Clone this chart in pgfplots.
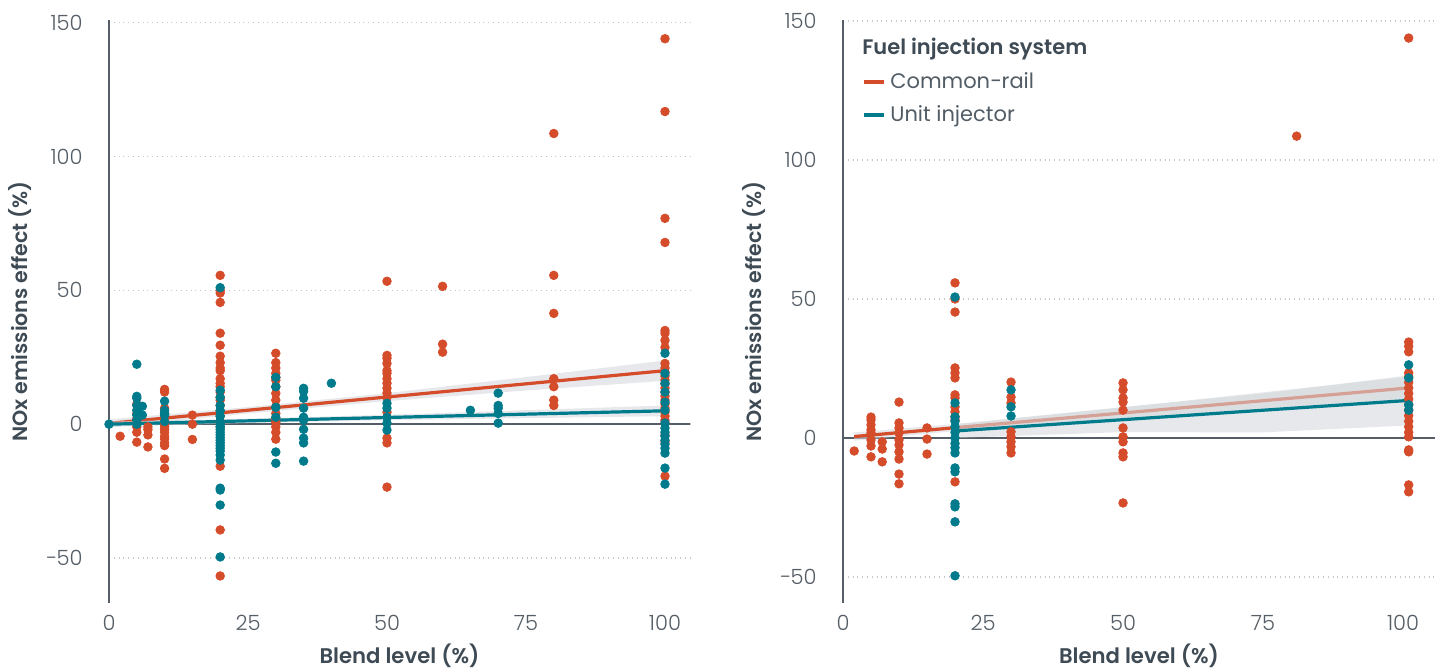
\documentclass[border=0pt]{standalone}
\usepackage{pgfplots}
\pgfplotsset{compat=1.18}
\usepackage{fontspec}
\setmainfont{Poppins}
\newfontfamily\lightfont{Poppins Light}
\newfontfamily\medfont{Poppins SemiBold}
\definecolor{cr}{HTML}{D54C2B}
\definecolor{ui}{HTML}{007B8C}
\definecolor{txt}{HTML}{3E4A54}
\definecolor{tickc}{HTML}{555E66}
\definecolor{band}{HTML}{D5D9DD}

\pgfplotsset{
 myaxis/.style={
  scale only axis,
  height=291.5pt,
  axis x line*=bottom, axis y line*=left,
  x axis line style={draw=none},
  y axis line style={draw=tickc, line width=0.6pt, -},
  major tick length=0pt,
  xtick={0,25,50,75,100},
  xticklabels={0,25,50,75,100},
  ytick={-50,0,50,100,150},
  yticklabels={−50,0,50,100,150},
  ymajorgrids, grid style={dotted, color=gray!45, line width=0.7pt},
  tick label style={font=\lightfont\fontsize{10.5}{12}\selectfont, color=tickc},
  yticklabel style={inner sep=0pt, anchor=east, xshift=-13pt},
  xticklabel style={inner sep=0pt, anchor=north, yshift=-6pt},
  xlabel={Blend level (\%)}, ylabel={NOx emissions effect (\%)},
  every axis x label/.style={at={([yshift=-26.5pt]axis description cs:0.5,0)}, anchor=center, font=\medfont\fontsize{10.6}{12}\selectfont, color=txt},
  every axis y label/.style={at={([xshift=-44.5pt]axis description cs:0,0.5)}, anchor=center, rotate=90, font=\medfont\fontsize{10.3}{12}\selectfont, color=txt},
  clip=false,
 },
 crpts/.style={only marks, mark=*, mark size=2.15pt, color=cr, mark options={draw=none, fill=cr}, forget plot},
 uipts/.style={only marks, mark=*, mark size=2.15pt, color=ui, mark options={draw=none, fill=ui}, forget plot},
 bandst/.style={fill=band, fill opacity=0.6, draw=none, forget plot},
}

\begin{document}
\begin{tikzpicture}
\useasboundingbox (0,0) rectangle (717.5pt,334.5pt);
% ---------------- LEFT ----------------
\begin{axis}[myaxis, at={(54.5pt,33pt)}, anchor=south west,
  width=290.5pt, xmin=0, xmax=104.5, ymin=-66.8, ymax=151]
\draw[color=tickc, line width=0.8pt] (axis cs:0,0) -- (axis cs:104.5,0);
\addplot[crpts] coordinates {
(2,-4.5)
(5,7.5)(5,4)(5,2)(5,-1)(5,-3)(5,-6.7)
(7,-1)(7,-2)(7,-4)(7,-8.5)
(10,13)(10,12)(10,6)(10,4)(10,2.5)(10,1)(10,0)(10,-1)(10,-2)(10,-3)(10,-4.5)(10,-5.5)(10,-7)(10,-8)(10,-13)(10,-16.5)
(15,3.4)(15,0)(15,-5.7)
(20,55.6)(20,50)(20,49)(20,45.5)(20,34)(20,29.5)(20,25.4)(20,23)(20,21)(20,20)(20,17)(20,15.3)(20,14)(20,12)(20,10)(20,9)(20,7)(20,5)(20,3)(20,1)(20,-1)(20,-15.7)(20,-39.5)(20,-56.7)
(30,26.5)(30,23)(30,21)(30,19)(30,17.5)(30,16.4)(30,14)(30,11.5)(30,9)(30,6.5)(30,4)(30,2)(30,0.7)(30,-1)(30,-3)(30,-5.6)
(50,53.4)(50,25.7)(50,24.6)(50,22.7)(50,20)(50,19)(50,17)(50,15.3)(50,13.4)(50,11.6)(50,10)(50,4.5)(50,-5.2)(50,-7)(50,-23.5)
(60,51.5)(60,29.9)(60,26.9)
(80,108.6)(80,55.6)(80,41.4)(80,17)(80,14)(80,9)(80,7)
(100,144)(100,116.8)(100,76.9)(100,67.9)(100,35)(100,34)(100,31.3)(100,28.7)(100,22.7)(100,21)(100,19.5)(100,18)(100,16.5)(100,15)(100,13.5)(100,12)(100,10.5)(100,9)(100,7.5)(100,6)(100,4.5)(100,3)(100,1.5)(100,0.4)(100,-4)(100,-6.6)(100,-19.4)
};
\addplot[uipts] coordinates {
(0,0)
(5,22.4)(5,10.4)(5,9.7)(5,7)(5,5.2)(5,3.4)(5,1.5)(5,0)
(6,6.7)(6,3.4)
(10,8.6)(10,5.2)(10,4.1)(10,3.4)(10,1)
(20,51)(20,12.7)(20,10)(20,7)(20,5)(20,3)(20,1)(20,0)(20,-1)(20,-2)(20,-3)(20,-4)(20,-5)(20,-6)(20,-7)(20,-8)(20,-9)(20,-10)(20,-11.5)(20,-13.4)(20,-23.9)(20,-24.6)(20,-30.2)(20,-49.6)
(30,17.5)(30,14)(30,6.3)(30,2.6)(30,-10.4)(30,-14.6)
(35,13.4)(35,12.3)(35,9.7)(35,6)(35,2.6)(35,1.5)(35,-1.9)(35,-5.2)(35,-7)(35,-13.8)
(40,15.3)
(50,7.8)(50,6)(50,2.6)(50,0.4)(50,-2.2)
(65,5.2)
(70,11.6)(70,7)(70,6)(70,4)(70,0.4)
(100,26.5)(100,19)(100,15.3)(100,12)(100,8.2)(100,5.2)(100,0.4)(100,-1.5)(100,-3)(100,-4.5)(100,-6)(100,-7.5)(100,-9)(100,-10.8)(100,-16.4)(100,-22.4)
};
% orange band and line
\addplot[bandst] coordinates {(0,1.8)(25,6.4)(50,11.6)(75,17.6)(100,23.8)(100,16.2)(75,12.6)(50,8.6)(25,4.0)(0,-1.2)} -- cycle;
\addplot[color=cr, line width=1.6pt, forget plot] coordinates {(0,0.3)(100,20)};
% teal band and line
\addplot[bandst] coordinates {(0,1)(25,2.05)(50,3.5)(75,5.25)(100,7)(100,3)(75,2.25)(50,1.5)(25,0.45)(0,-1)} -- cycle;
\addplot[color=ui, line width=1.6pt, forget plot] coordinates {(0,0)(100,5)};
\end{axis}
% ---------------- RIGHT ----------------
\begin{axis}[myaxis, at={(421.5pt,33pt)}, anchor=south west,
  width=296pt, xmin=0, xmax=105.7, ymin=-59.4, ymax=150.4,
  legend style={at={(axis description cs:0.032,0.917)}, anchor=north west, draw=none, fill=none,
    font=\fontsize{10.5}{12}\selectfont, text=txt!90, inner xsep=0pt, inner ysep=0pt, row sep=3pt,
    nodes={inner xsep=2pt}},
  legend cell align=left,
  legend image code/.code={\draw[line width=2pt] (0pt,0pt) -- (10pt,0pt);}]
\draw[color=tickc, line width=0.8pt] (axis cs:0,0) -- (axis cs:105.7,0);
\addplot[crpts] coordinates {
(2,-4.7)
(5,7.5)(5,6.5)(5,4.7)(5,2.9)(5,1.8)(5,-0.7)(5,-2.9)(5,-6.8)
(7,-1.4)(7,-4)(7,-8.6)
(10,12.9)(10,5.4)(10,3.6)(10,1.8)(10,-0.7)(10,-2.5)(10,-5)(10,-7.6)(10,-13)(10,-16.5)
(15,3.6)(15,-0.4)(15,-5.8)
(20,55.8)(20,50)(20,45.3)(20,25.2)(20,23.4)(20,21.6)(20,15.5)(20,14.4)(20,11.2)(20,9.4)(20,7.6)(20,6.5)(20,-15.8)
(30,20.1)(30,14.7)(30,12.6)(30,2.2)(30,0.4)(30,-1.4)(30,-3.2)(30,-5.4)
(50,19.8)(50,17.3)(50,14.4)(50,12.9)(50,10)(50,3.6)(50,0.4)(50,-1.4)(50,-5.4)(50,-6.8)(50,-23.4)
(81,108.6)
(101,143.9)(101,34.5)(101,33)(101,31)(101,23.4)(101,22)(101,20)(101,18)(101,16)(101,14)(101,12)(101,10)(101,8)(101,6)(101,4)(101,2)(101,0.4)(101,-4.3)(101,-5)(101,-16.9)(101,-19.4)
};
\addplot[uipts] coordinates {
(20,50.7)(20,12.6)(20,7.6)(20,6)(20,4)(20,2)(20,0)(20,-2)(20,-3.5)(20,-5.4)(20,-10.8)(20,-12.2)(20,-23.7)(20,-24.8)(20,-30.2)(20,-49.6)
(30,17.3)(30,11.2)(30,7.9)
(101,26.3)(101,21.6)(101,11.9)(101,10)
};
\addplot[bandst] coordinates {(2,2.0)(25,5.8)(50,11.0)(75,16.4)(101,22)(101,14)(75,10.4)(50,7.0)(25,3.4)(2,-1.0)} -- cycle;
\addplot[color=cr, line width=1.6pt] coordinates {(2,0.5)(101,18)};
\addlegendentry{Common−rail}
\addplot[bandst] coordinates {(20,5)(50,11.1)(75,16.0)(101,22.5)(101,4.5)(75,2.0)(50,2.1)(20,0)} -- cycle;
\addplot[color=ui, line width=1.6pt] coordinates {(20,2.5)(101,13.5)};
\addlegendentry{Unit injector}
\node[anchor=north west, inner sep=0pt, font=\medfont\fontsize{10.5}{12}\selectfont, text=txt]
  at (axis description cs:0.032,0.969) {Fuel injection system};
\end{axis}
\end{tikzpicture}
\end{document}
